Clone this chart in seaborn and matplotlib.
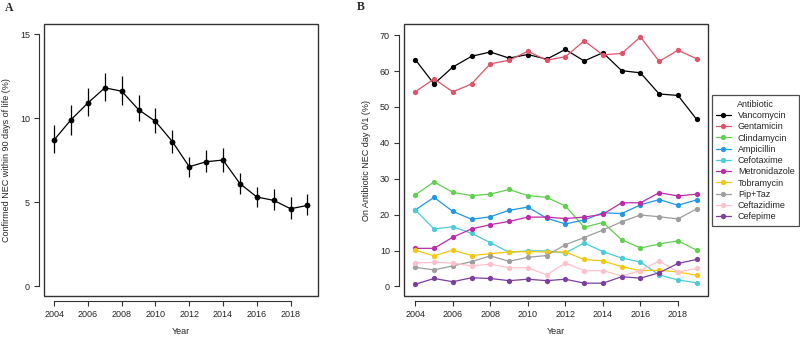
import matplotlib
matplotlib.use("Agg")
import matplotlib.pyplot as plt
from matplotlib.patches import Rectangle
import seaborn as sns
import numpy as np
import pandas as pd

# ---------------- data ----------------
years = list(range(2004, 2020))

# Panel A: confirmed NEC within 90 days (%)
nec_pct = [8.7, 9.9, 10.9, 11.8, 11.6, 10.5, 9.8, 8.6, 7.1, 7.4, 7.5, 6.1, 5.3, 5.1, 4.6, 4.8]
nec_lo = [7.9, 9.0, 10.1, 11.0, 10.8, 9.8, 9.1, 7.9, 6.5, 6.8, 6.8, 5.5, 4.7, 4.5, 4.0, 4.2]
nec_hi = [9.6, 10.8, 11.8, 12.7, 12.5, 11.4, 10.6, 9.3, 7.7, 8.1, 8.2, 6.7, 5.9, 5.8, 5.3, 5.5]

# Panel B: on antibiotic NEC day 0/1 (%)
antibiotics = ["Vancomycin", "Gentamicin", "Clindamycin", "Ampicillin", "Cefotaxime",
               "Metronidazole", "Tobramycin", "Pip+Taz", "Ceftazidime", "Cefepime"]
vancomycin = [63.2, 56.4, 61.1, 64.1, 65.3, 63.6, 64.6, 63.3, 66.0, 62.8, 65.1, 60.1, 59.5, 53.6, 53.2, 46.5]
gentamicin = [54.2, 57.8, 54.2, 56.4, 62.0, 63.0, 65.5, 63.0, 64.0, 68.4, 64.5, 64.9, 69.5, 62.7, 65.8, 63.4]
clindamycin = [25.5, 29.1, 26.2, 25.3, 25.7, 27.0, 25.3, 24.8, 22.4, 16.5, 17.8, 13.0, 10.7, 11.8, 12.7, 10.1]
ampicillin = [21.3, 24.8, 20.9, 18.7, 19.4, 21.2, 22.1, 19.0, 17.4, 18.5, 20.5, 20.3, 22.7, 24.2, 22.6, 24.1]
cefotaxime = [21.3, 16.0, 16.6, 14.8, 12.2, 9.5, 9.9, 9.9, 9.3, 12.1, 9.7, 7.9, 6.8, 3.2, 1.8, 1.0]
metronidazole = [10.6, 10.6, 13.7, 16.0, 17.2, 18.1, 19.3, 19.3, 18.9, 19.3, 20.1, 23.3, 23.3, 26.1, 25.2, 25.7]
tobramycin = [10.1, 8.5, 10.1, 8.6, 9.1, 9.6, 9.7, 9.6, 9.6, 7.5, 7.1, 5.5, 4.4, 4.5, 4.0, 3.1]
piptaz = [5.3, 4.6, 5.7, 6.9, 8.5, 7.0, 8.1, 8.6, 11.6, 13.6, 15.7, 18.0, 19.9, 19.4, 18.8, 21.6]
ceftazidime = [6.5, 6.7, 6.5, 5.7, 6.2, 5.2, 5.2, 3.2, 6.5, 4.4, 4.4, 2.9, 4.4, 7.1, 4.0, 5.0]
cefepime = [0.6, 2.2, 1.3, 2.4, 2.2, 1.6, 2.0, 1.6, 2.0, 0.9, 0.9, 2.7, 2.3, 3.8, 6.4, 7.5]

series_b = [vancomycin, gentamicin, clindamycin, ampicillin, cefotaxime,
            metronidazole, tobramycin, piptaz, ceftazidime, cefepime]
colors = ["#000000", "#DF536B", "#61D04F", "#2297E6", "#4CCBD8",
          "#BE2AA8", "#F5C710", "#9E9E9E", "#FFC0CB", "#7B3F9E"]

df_a = pd.DataFrame({"Year": years, "Pct": nec_pct, "lo": nec_lo, "hi": nec_hi})
df_b = pd.DataFrame({
    "Year": np.tile(years, len(antibiotics)),
    "Pct": np.concatenate(series_b),
    "Antibiotic": np.repeat(antibiotics, len(years)),
})

# ---------------- style ----------------
sns.set_style("white")
plt.rcParams["font.family"] = ["Liberation Sans", "DejaVu Sans"]
FS = 6.5

fig = plt.figure(figsize=(8.0, 3.38), dpi=100)
axA = fig.add_axes([0.055, 0.124, 0.342, 0.805])
axB = fig.add_axes([0.505, 0.124, 0.380, 0.805])


def r_style(ax, xb, yb, yticks):
    for s in ["top", "right"]:
        ax.spines[s].set_visible(False)
    for s in ["left", "bottom"]:
        ax.spines[s].set_position(("outward", 3.6))
        ax.spines[s].set_color("#333333")
        ax.spines[s].set_linewidth(0.8)
    ax.spines["left"].set_bounds(*yb)
    ax.spines["bottom"].set_bounds(*xb)
    ax.add_patch(Rectangle((0, 0), 1, 1, transform=ax.transAxes, fill=False,
                           edgecolor="#333333", linewidth=1.0, clip_on=False, zorder=5))
    ax.set_xticks(range(2004, 2019, 2))
    ax.set_yticks(yticks)
    ax.tick_params(axis="both", direction="out", length=3.6, width=0.8,
                   color="#333333", labelsize=FS, pad=3, left=True, bottom=True)
    ax.grid(False)


# ---------------- panel A ----------------
sns.lineplot(data=df_a, x="Year", y="Pct", ax=axA, color="black", linewidth=0.9,
             marker="o", markersize=4.2, markeredgewidth=0)
axA.vlines(df_a["Year"], df_a["lo"], df_a["hi"], color="black", linewidth=0.9)
axA.set_xlim(2003.4, 2019.6)
axA.set_ylim(-0.6, 15.6)
r_style(axA, (2004, 2018), (0, 15), [0, 5, 10, 15])
axA.set_xlabel("Year", fontsize=FS)
axA.set_ylabel("Confirmed NEC within 90 days of life (%)", fontsize=FS)
axA.xaxis.set_label_coords(0.5, -0.115)
axA.yaxis.set_label_coords(-0.122, 0.5)

# ---------------- panel B ----------------
sns.lineplot(data=df_b, x="Year", y="Pct", hue="Antibiotic", hue_order=antibiotics,
             palette=colors, ax=axB, linewidth=0.9, marker="o", markersize=3.8,
             markeredgewidth=0)
axB.set_xlim(2003.4, 2019.6)
axB.set_ylim(-2.7, 73.1)
r_style(axB, (2004, 2018), (0, 70), list(range(0, 71, 10)))
axB.set_xlabel("Year", fontsize=FS)
axB.set_ylabel("On Antibiotic NEC day 0/1 (%)", fontsize=FS)
axB.xaxis.set_label_coords(0.5, -0.115)
axB.yaxis.set_label_coords(-0.108, 0.5)

leg = axB.legend(title="Antibiotic", loc="center left", bbox_to_anchor=(0.8895, 0.525),
                 bbox_transform=fig.transFigure, fontsize=FS, title_fontsize=FS,
                 frameon=True, fancybox=False, handlelength=1.6, handletextpad=0.8,
                 labelspacing=0.25, borderpad=0.5, borderaxespad=0)
leg.get_frame().set_edgecolor("#222222")
leg.get_frame().set_linewidth(0.9)

# panel letters
fig.text(0.006, 0.975, "A", fontsize=8.5, fontweight="bold", va="center", ha="left",
         family=["Liberation Serif", "DejaVu Serif"])
fig.text(0.446, 0.978, "B", fontsize=8.5, fontweight="bold", va="center", ha="left",
         family=["Liberation Serif", "DejaVu Serif"])

fig.savefig("out.png", dpi=100)
